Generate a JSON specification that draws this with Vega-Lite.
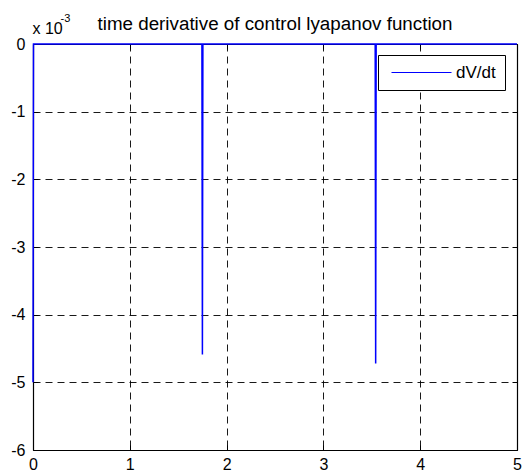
{
  "$schema": "https://vega.github.io/schema/vega-lite/v6.json",
  "width": 484,
  "height": 406,
  "autosize": "none",
  "padding": {"left": 33, "top": 44, "right": 8, "bottom": 25},
  "background": "white",
  "config": {
    "font": "Liberation Sans",
    "view": {"stroke": null}
  },
  "title": {
    "text": "time derivative of control lyapanov function",
    "frame": "group",
    "anchor": "middle",
    "fontSize": 18.8,
    "fontWeight": "normal",
    "font": "Liberation Sans",
    "color": "black",
    "baseline": "alphabetic",
    "offset": -37
  },
  "data": {
    "values": [
      {"t": 0.0, "v": -5.0, "s": "dV/dt"},
      {"t": 0.005, "v": 0.0, "s": "dV/dt"},
      {"t": 1.745, "v": 0.0, "s": "dV/dt"},
      {"t": 1.75, "v": -4.59, "s": "dV/dt"},
      {"t": 1.755, "v": 0.0, "s": "dV/dt"},
      {"t": 3.535, "v": 0.0, "s": "dV/dt"},
      {"t": 3.54, "v": -4.72, "s": "dV/dt"},
      {"t": 3.545, "v": 0.0, "s": "dV/dt"},
      {"t": 5.0, "v": 0.0, "s": "dV/dt"}
    ]
  },
  "layer": [
    {
      "mark": {"type": "line", "strokeWidth": 1.5},
      "encoding": {
        "x": {
          "field": "t", "type": "quantitative",
          "scale": {"domain": [0, 5], "nice": false, "zero": false},
          "axis": {
            "orient": "bottom", "title": null, "values": [0, 1, 2, 3, 4, 5],
            "grid": true, "gridColor": "black", "gridDash": [7, 5], "gridOpacity": 0.9, "gridWidth": 1,
            "domain": true, "domainColor": "black", "domainWidth": 1.2,
            "tickSize": -5, "tickColor": "black", "tickWidth": 1,
            "labelFontSize": 16, "labelColor": "black", "labelPadding": 11, "labelFont": "Liberation Sans",
            "labelFlush": false
          }
        },
        "y": {
          "field": "v", "type": "quantitative",
          "scale": {"domain": [-6, 0], "nice": false, "zero": false},
          "axis": {
            "orient": "left", "title": "x 10", "titleAngle": 0, "titleAlign": "left", "titleBaseline": "alphabetic",
            "titleX": -1, "titleY": -11, "titleFontSize": 16, "titleFontWeight": "normal", "titleColor": "black",
            "titleFont": "Liberation Sans",
            "values": [0, -1, -2, -3, -4, -5, -6],
            "labelExpr": "'' + datum.value",
            "grid": true, "gridColor": "black", "gridDash": [7, 5], "gridOpacity": 0.9, "gridWidth": 1,
            "domain": true, "domainColor": "black", "domainWidth": 1.2,
            "tickSize": -5, "tickColor": "black", "tickWidth": 1,
            "labelFontSize": 16, "labelColor": "black", "labelPadding": 13, "labelFont": "Liberation Sans",
            "labelFlush": false
          }
        },
        "color": {
          "field": "s", "type": "nominal",
          "scale": {"range": ["#0000ff"]},
          "legend": {
            "title": null, "orient": "none", "legendX": 345, "legendY": 11,
            "symbolType": "M-5,0H5", "symbolSize": 144, "symbolStrokeWidth": 1.2,
            "symbolOffset": 26, "labelOffset": 26,
            "labelFontSize": 17, "labelColor": "black", "labelFont": "Liberation Sans",
            "padding": 9, "strokeColor": "black", "fillColor": "white"
          }
        }
      }
    },
    {
      "mark": {"type": "line", "strokeOpacity": 0},
      "encoding": {
        "x": {
          "field": "t", "type": "quantitative",
          "axis": {
            "orient": "top", "title": null, "values": [0, 1, 2, 3, 4, 5], "labels": false,
            "grid": false, "domain": true, "domainColor": "black", "domainWidth": 1.2,
            "tickSize": -5, "tickColor": "black"
          }
        },
        "y": {
          "field": "v", "type": "quantitative",
          "axis": {
            "orient": "right", "title": "-3", "titleAngle": 0, "titleAlign": "left", "titleBaseline": "alphabetic",
            "titleX": -457, "titleY": -23, "titleFontSize": 11, "titleFontWeight": "normal", "titleColor": "black",
            "titleFont": "Liberation Sans",
            "values": [0, -1, -2, -3, -4, -5, -6], "labels": false,
            "grid": false, "domain": true, "domainColor": "black", "domainWidth": 1.2,
            "tickSize": -5, "tickColor": "black"
          }
        }
      }
    }
  ],
  "resolve": {"axis": {"x": "independent", "y": "independent"}}
}
